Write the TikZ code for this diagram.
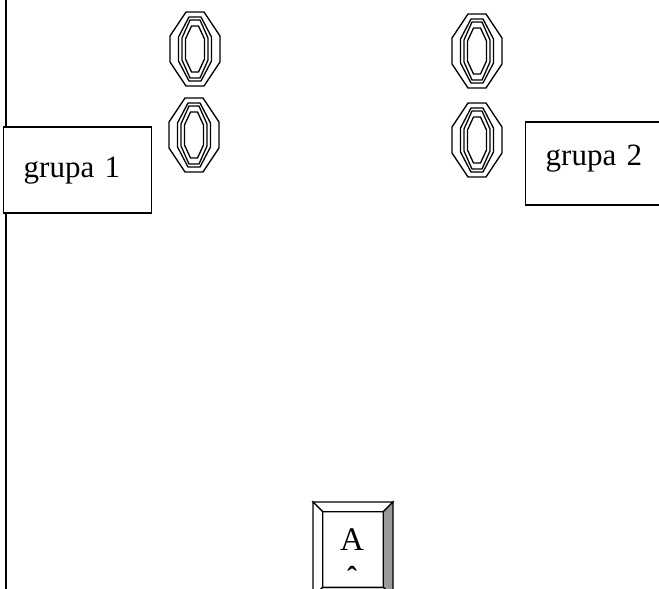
\documentclass[tikz,border=0pt]{standalone}
\usepackage{fontspec}
\setmainfont{Liberation Serif}
\usepackage{tikz}
\usetikzlibrary{positioning}
\tikzstyle{grupa} = [rectangle, draw=black, line width=1.4pt, fill=white, inner xsep=20pt, inner ysep=0pt, text width=108pt, align=left, anchor=base west, font=\fontsize{31}{36}\selectfont]
\tikzstyle{ringline} = [line width=1.3pt, line join=miter]
\tikzstyle{bevel} = [draw=black, line width=1.2pt]
\newcommand{\ring}[2]{%
  \foreach \w/\h/\a/\b in {25/37/9/13, 16.5/32/6/12, 13/29/5/11, 9.5/23/3.5/10}
    \draw[ringline, shift={(#1,#2)}] (\a,-\h) -- (\w,-\b) -- (\w,\b) -- (\a,\h) -- (-\a,\h) -- (-\w,\b) -- (-\w,-\b) -- (-\a,-\h) -- cycle;
}
\begin{document}
\begin{tikzpicture}[x=1pt, y=-1pt]
        \useasboundingbox (0,0) rectangle (659,589);
        % wall
        \coordinate (top) at (6,0);
        \coordinate (bottom) at (6,589);
        \draw [line width=2pt] (top) -- (bottom);

        % groups
        \node (grupa1) [grupa, text height=50pt, text depth=36pt] at (3,177) {grupa 1};
        \node (grupa2) [grupa, text height=43pt, text depth=40pt] at (525,165) {grupa 2};

        % rings
        \ring{195}{49}
        \ring{194}{135}
        \ring{477}{51}
        \ring{477}{140}

        % key A
        \node (key) [rectangle, minimum width=60pt, minimum height=75pt, inner sep=0pt] at (353,549.5) {};
        \coordinate (outerNW) at (313,502);
        \coordinate (outerNE) at (393,502);
        \coordinate (outerSE) at (393,597);
        \coordinate (outerSW) at (313,597);
        \filldraw [bevel, fill=white] (outerNW) -- (outerNE) -- (key.north east) -- (key.north west) -- cycle;
        \filldraw [bevel, fill=white] (outerNW) -- (key.north west) -- (key.south west) -- (outerSW) -- cycle;
        \filldraw [bevel, fill=black!40] (outerNE) -- (key.north east) -- (key.south east) -- (outerSE) -- cycle;
        \filldraw [bevel, fill=black!22] (outerSW) -- (key.south west) -- (key.south east) -- (outerSE) -- cycle;
        \draw [bevel] (key.north west) rectangle (key.south east);
        \node (keyA) [anchor=base, inner sep=0pt, font=\fontsize{33}{36}\selectfont] at (352,550) {A};
        \node (caret) [anchor=north, inner sep=0pt, font=\fontsize{30}{36}\selectfont\bfseries] at (352,566) {ˆ};
\end{tikzpicture}
\end{document}
